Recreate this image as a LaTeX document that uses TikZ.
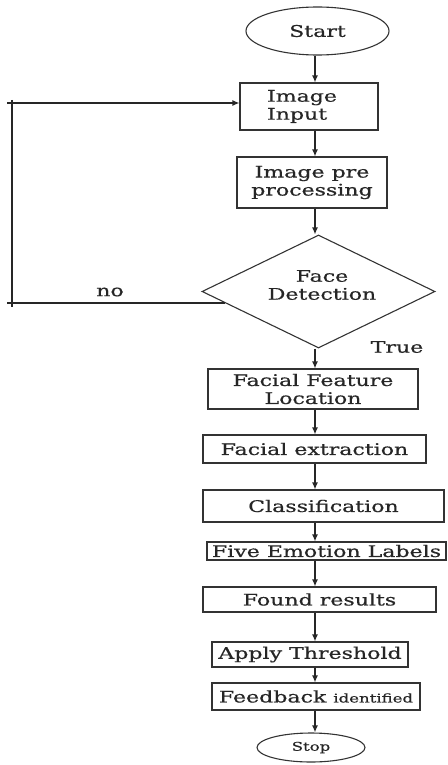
\documentclass[tikz,border=0pt]{standalone}
\usepackage{fontspec}
\setmainfont{DejaVu Serif}[FakeStretch=1.38,FakeBold=0.6]
\usetikzlibrary{shapes.geometric,arrows.meta,calc}
\begin{document}
\begin{tikzpicture}[x=1pt,y=1pt,
  every node/.style={text=black!85,font=\fontsize{16}{18}\selectfont},
  box/.style={draw=black!80,line width=1.1pt,rectangle,inner sep=0pt,align=center},
  oval/.style={draw=black!80,line width=1.1pt,ellipse,inner sep=0pt},
  decision/.style={draw=black!80,line width=1.1pt,diamond,inner sep=0pt},
  conn/.style={draw=black!85,line width=1.3pt},
  arr/.style={conn,-{Latex[length=7pt,width=6pt]}}]
\useasboundingbox (0,0) rectangle (447,-765);
\coordinate (axis) at (315,0);
\node[oval,minimum width=143,minimum height=48] (start) at (317.5,-31) {Start};
\node[box,inner xsep=27pt,text width=84pt,minimum height=47,align=left] (in) at (309,-106.5) {Image\\Input};
\node[box,minimum width=150,minimum height=51] (pre) at (312,-182.5) {Image pre\\processing};
\node[decision,minimum width=233,minimum height=113] (d) at (318.5,-291.5) {};
\node[align=center] (dt) at (322,-285) {Face\\Detection};
\node[box,minimum width=210,minimum height=40] (ffl) at (313,-389) {Facial Feature\\Location};
\node[box,minimum width=223,minimum height=28] (fe) at (314.5,-449) {Facial extraction};
\node[box,minimum width=241,minimum height=32] (cls) at (323.5,-506) {Classification};
\node[box,minimum width=239,minimum height=18] (fel) at (326.5,-551) {Five Emotion Labels};
\node[box,minimum width=233,minimum height=25] (fr) at (319.5,-599.5) {Found results};
\node[box,minimum width=196,minimum height=25] (at) at (310,-654.5) {Apply Threshold};
\node[box,minimum width=208,minimum height=27] (fb) at (316,-696.5) {Feedback {\fontsize{12}{14}\selectfont identified}};
\node[oval,minimum width=108,minimum height=29,font=\fontsize{12}{14}\selectfont] (stop) at (311,-747.5) {Stop};
\node (no) at (110,-292) {no};
\node (true) at (397,-347) {True};
% main flow
\draw[arr] (start.south -| axis) -- (in.north -| axis);
\draw[arr] (in.south -| axis) -- (pre.north -| axis);
\draw[arr] (pre.south -| axis) -- (d.north -| axis);
\draw[arr] (d.south -| axis) -- (ffl.north -| axis);
\draw[arr] (ffl.south -| axis) -- (fe.north -| axis);
\draw[arr] (fe.south -| axis) -- (cls.north -| axis);
\draw[arr] (cls.south -| axis) -- (fel.north -| axis);
\draw[arr] (fel.south -| axis) -- (fr.north -| axis);
\draw[arr] (fr.south -| axis) -- (at.north -| axis);
\draw[arr] (at.south -| axis) -- (fb.north -| axis);
\draw[arr] (fb.south -| axis) -- (stop.north -| axis);
% feedback loop
\coordinate (p) at ($(d.west)!0.2!(d.south)$);
\coordinate (loopB) at (7,-303);
\coordinate (loopT) at (7,-103);
\coordinate (vtop) at (12,-100);
\coordinate (vbot) at (12,-307);
\draw[conn] (p) -- (p -| loopB);
\draw[conn] (vtop) -- (vbot);
\draw[arr] (loopT) -- (in.west |- loopT);
\end{tikzpicture}
\end{document}
